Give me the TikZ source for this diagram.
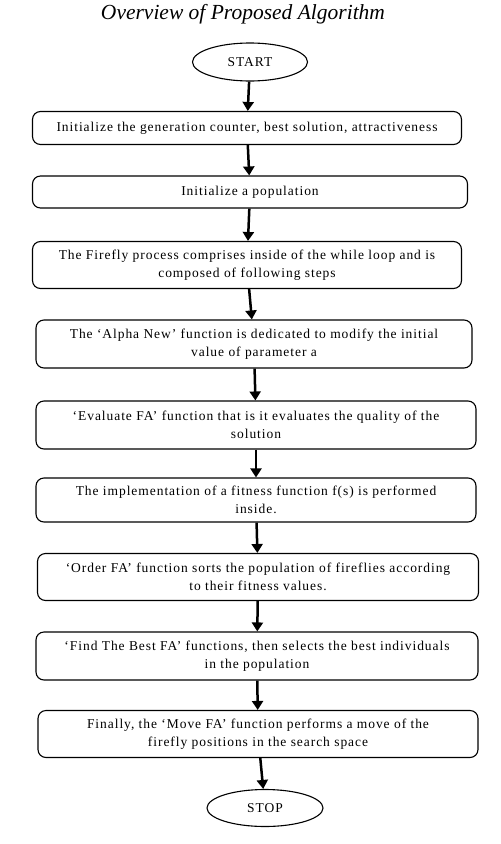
\documentclass[tikz,border=0pt]{standalone}
\usepackage{fontspec}
\setmainfont{Liberation Serif}
\newfontfamily\boxfont[Ligatures=TeX,LetterSpace=7]{Liberation Serif}
\usetikzlibrary{shapes.geometric,arrows.meta}
\tikzset{
    stepbox/.style={draw, rounded corners=8pt, line width=1.1pt, align=center, inner sep=0pt,
        font=\boxfont\fontsize{13.5}{18}\selectfont},
    term/.style={draw, ellipse, line width=1.1pt, inner sep=0pt, font=\boxfont\fontsize{13.5}{15}\selectfont},
    flow/.style={-{Triangle[width=11pt,length=9pt]}, line width=2.5pt}
}
\begin{document}
\begin{tikzpicture}[x=1pt,y=-1pt]
    \useasboundingbox (0,0) rectangle (501,844);
    \node[font=\itshape\fontsize{21.5}{24}\selectfont] (title) at (243,14) {Overview of Proposed Algorithm};
    \node[term, minimum width=115pt, minimum height=38pt] (start) at (250,62) {START};
    \node[stepbox, minimum width=429pt, minimum height=33pt] (s1) at (247,128)
        {Initialize the generation counter, best solution, attractiveness};
    \node[stepbox, minimum width=435pt, minimum height=32pt] (s2) at (250,192)
        {Initialize a population};
    \node[stepbox, minimum width=429pt, minimum height=47pt] (s3) at (247,265)
        {The Firefly process comprises inside of the while loop and is\\composed of following steps};
    \node[stepbox, minimum width=436pt, minimum height=48pt] (s4) at (254,344)
        {The `Alpha New' function is dedicated to modify the initial\\value of parameter a};
    \node[stepbox, minimum width=440pt, minimum height=48pt] (s5) at (256,425)
        {`Evaluate FA' function that is it evaluates the quality of the\\solution};
    \node[stepbox, minimum width=440pt, minimum height=44pt] (s6) at (256,500)
        {The implementation of a fitness function f(s) is performed\\inside.};
    \node[stepbox, minimum width=441pt, minimum height=47pt] (s7) at (258,577)
        {`Order FA' function sorts the population of fireflies according\\to their fitness values.};
    \node[stepbox, minimum width=442pt, minimum height=48pt] (s8) at (257,656)
        {`Find The Best FA' functions, then selects the best individuals\\in the population};
    \node[stepbox, minimum width=440pt, minimum height=47pt] (s9) at (258,734)
        {Finally, the `Move FA' function performs a move of the\\firefly positions in the search space};
    \node[term, minimum width=116pt, minimum height=37pt] (stop) at (265,808) {STOP};
    % arrows between the steps
    \foreach \a/\b in {start/s1,s1/s2,s2/s3,s3/s4,s4/s5,s5/s6,s6/s7,s7/s8,s8/s9,s9/stop}{
        \draw[flow] (\a) -- (\b);
    }
\end{tikzpicture}
\end{document}
